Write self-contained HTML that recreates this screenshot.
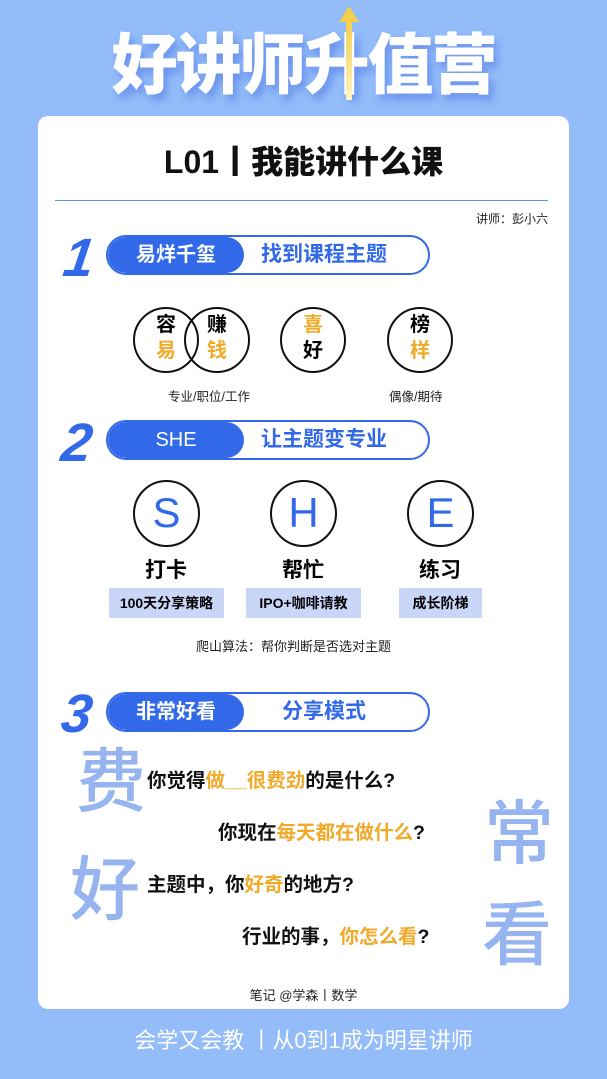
<!DOCTYPE html>
<html><head><meta charset="utf-8">
<style>
*{margin:0;padding:0;box-sizing:border-box}
body{width:607px;height:1079px;background:#93bcf9;position:relative;overflow:hidden;font-family:"Liberation Sans","Noto Sans CJK SC",sans-serif}
.a{position:absolute;white-space:nowrap}
.card{left:38px;top:116px;width:531px;height:893px;background:#fff;border-radius:10px}
.num{font-style:italic;font-weight:900;color:#3169e8;font-size:54px;line-height:1;font-family:"Liberation Sans",sans-serif;transform:skewX(-8deg)}
.pill{left:106px;width:324px;height:40px;border:2px solid #3169e8;border-radius:20px;overflow:hidden;background:#fff}
.pill .l{position:absolute;left:0;top:0;width:136px;height:100%;background:#3169e8;border-radius:20px;color:#fff;font-size:20px;font-weight:700;text-align:center;line-height:36px}
.pill .r{position:absolute;left:136px;right:24px;top:0;height:100%;color:#3169e8;font-size:21px;font-weight:700;text-align:center;line-height:36px}
.c{border:2.5px solid #111;border-radius:50%;width:66px;height:66px}
.ct{font-size:20px;font-weight:700;text-align:center;width:40px;line-height:26px}
.y{color:#f0a928}
.L{width:67px;height:67px;border:2.5px solid #111;border-radius:50%;color:#3169e8;font-size:42px;text-align:center;line-height:62px;font-family:"Liberation Sans",sans-serif}
.lab{font-size:21px;font-weight:700;width:100px;text-align:center}
.tag{background:#c9d6f7;height:30px;font-size:14px;font-weight:700;text-align:center;line-height:30px}
.q{font-size:19.5px;font-weight:700;color:#111}
.big{color:#95b4f0;font-family:"Noto Sans CJK SC",sans-serif;font-weight:500;font-size:70px;line-height:1}
</style></head><body>
<div class="a" style="left:100px;top:12px;width:407px;text-align:center;font-size:66px;font-weight:900;color:#fff;text-shadow:4px 6px 8px rgba(80,120,230,.6);letter-spacing:-2px">好讲师升值营</div>
<div class="a" style="left:339px;top:6px;width:0;height:0;border-left:10px solid transparent;border-right:10px solid transparent;border-bottom:16px solid #f2d04e"></div>
<div class="a" style="left:346px;top:20px;width:6px;height:80px;background:linear-gradient(#f2d04e,#fff3c0)"></div>
<div class="a card"></div>
<div class="a" style="left:38px;top:137px;width:531px;text-align:center;font-size:32px;font-weight:900;color:#111">L01丨我能讲什么课</div>
<div class="a" style="left:55px;top:200px;width:493px;height:1px;background:#5b9be0"></div>
<div class="a" style="right:59px;top:210px;font-size:12px;color:#222">讲师：彭小六</div>

<div class="a num" style="left:64px;top:231px">1</div>
<div class="a pill" style="top:235px"><div class="l">易烊千玺</div><div class="r">找到课程主题</div></div>

<div class="a c" style="left:133px;top:307px"></div>
<div class="a c" style="left:184px;top:307px"></div>
<div class="a c" style="left:280px;top:307px"></div>
<div class="a c" style="left:387px;top:307px"></div>
<div class="a ct" style="left:146px;top:312px">容<br><span class="y">易</span></div>
<div class="a ct" style="left:197px;top:312px">赚<br><span class="y">钱</span></div>
<div class="a ct" style="left:293px;top:312px"><span class="y">喜</span><br>好</div>
<div class="a ct" style="left:400px;top:312px">榜<br><span class="y">样</span></div>
<div class="a" style="left:168px;top:386px;font-size:12.5px;color:#222">专业/职位/工作</div>
<div class="a" style="left:389px;top:386px;font-size:12.5px;color:#222">偶像/期待</div>

<div class="a num" style="left:62px;top:416px">2</div>
<div class="a pill" style="top:420px"><div class="l" style="font-weight:400">SHE</div><div class="r">让主题变专业</div></div>

<div class="a L" style="left:133px;top:480px">S</div>
<div class="a L" style="left:270px;top:480px">H</div>
<div class="a L" style="left:407px;top:480px">E</div>
<div class="a lab" style="left:116px;top:554px">打卡</div>
<div class="a lab" style="left:253px;top:554px">帮忙</div>
<div class="a lab" style="left:390px;top:554px">练习</div>
<div class="a tag" style="left:109px;top:588px;width:115px">100天分享策略</div>
<div class="a tag" style="left:246px;top:588px;width:115px">IPO+咖啡请教</div>
<div class="a tag" style="left:399px;top:588px;width:83px">成长阶梯</div>
<div class="a" style="left:196px;top:636px;font-size:13px;color:#222">爬山算法：帮你判断是否选对主题</div>

<div class="a num" style="left:62px;top:687px">3</div>
<div class="a pill" style="top:692px"><div class="l">非常好看</div><div class="r">分享模式</div></div>

<div class="a big" style="left:76px;top:742px">费</div>
<div class="a big" style="left:70px;top:850px">好</div>
<div class="a big" style="left:484px;top:794px">常</div>
<div class="a big" style="left:482px;top:895px">看</div>

<div class="a q" style="left:147px;top:764px">你觉得<span class="y">做__很费劲</span>的是什么?</div>
<div class="a q" style="left:218px;top:816px">你现在<span class="y">每天都在做什么</span>?</div>
<div class="a q" style="left:147px;top:868px">主题中，你<span class="y">好奇</span>的地方?</div>
<div class="a q" style="left:242px;top:920px">行业的事，<span class="y">你怎么看</span>?</div>

<div class="a" style="left:38px;top:985px;width:531px;text-align:center;font-size:13px;color:#222">笔记 @学森丨数学</div>
<div class="a" style="left:0;top:1023px;width:607px;text-align:center;font-size:22px;color:#fff">会学又会教 丨从0到1成为明星讲师</div>
</body></html>
